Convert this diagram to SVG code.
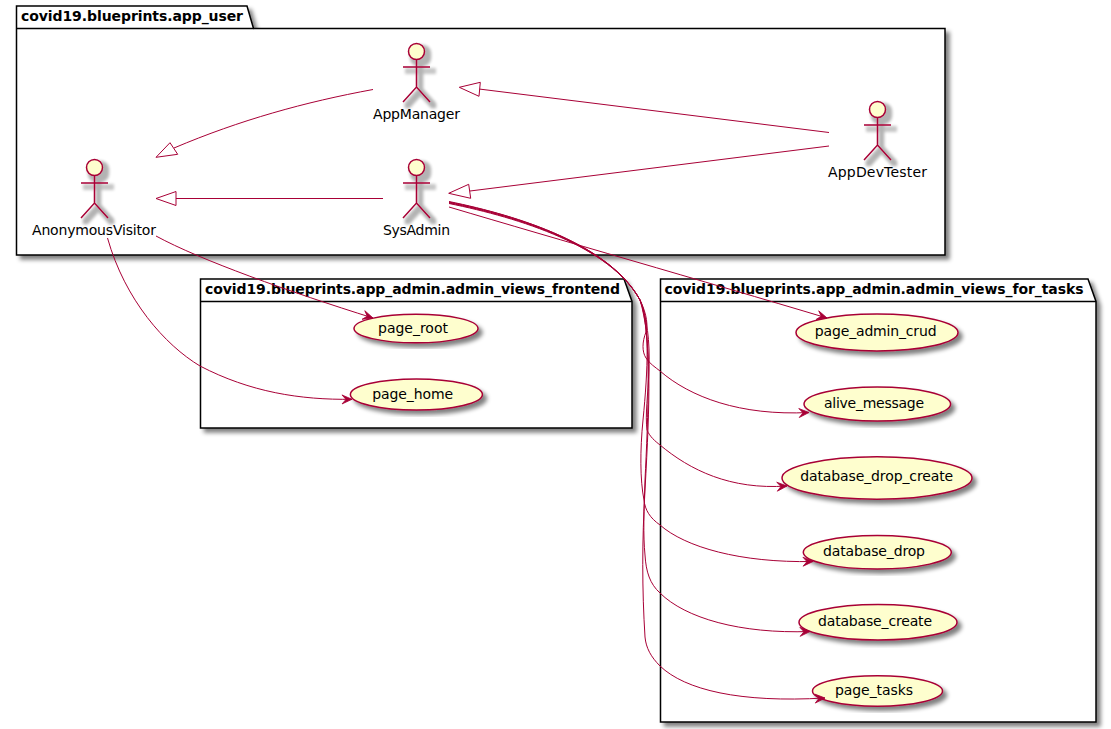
<svg xmlns="http://www.w3.org/2000/svg" width="1111" height="729" viewBox="0 0 1111 729">
<style>
text{font-family:"DejaVu Sans",sans-serif;font-size:14px;fill:#000}
.pkg path{fill:#fff;stroke:#000;stroke-width:1.5}
.pkg text{font-weight:bold}
.actor circle,.uc ellipse{fill:#FEFECE;stroke:#A80036;stroke-width:1.5}
.actor path{fill:none;stroke:#A80036;stroke-width:1.5}
.actor text,.uc text{text-anchor:middle}
.c{fill:none;stroke:#A80036;stroke-width:1}
.a{marker-end:url(#arrow)}
.t{fill:#fff;stroke:#A80036;stroke-width:1}
</style>
<defs>
<filter id="sh" x="-10%" y="-10%" width="125%" height="130%">
<feGaussianBlur in="SourceAlpha" stdDeviation="2.2" result="b"/>
<feOffset in="b" dx="4" dy="4" result="o"/>
<feComponentTransfer in="o" result="g"><feFuncA type="linear" slope="0.5"/></feComponentTransfer>
<feMerge><feMergeNode in="g"/><feMergeNode in="SourceGraphic"/></feMerge>
</filter>
<filter id="sa" x="-40%" y="-20%" width="200%" height="150%">
<feMorphology in="SourceAlpha" operator="dilate" radius="1.5" result="d"/>
<feGaussianBlur in="d" stdDeviation="1.6" result="b"/>
<feOffset in="b" dx="4" dy="4" result="o"/>
<feComponentTransfer in="o" result="g"><feFuncA type="linear" slope="0.3"/></feComponentTransfer>
<feMerge><feMergeNode in="g"/><feMergeNode in="SourceGraphic"/></feMerge>
</filter>
<marker id="arrow" markerUnits="userSpaceOnUse" markerWidth="14" markerHeight="12" viewBox="-12 -6 14 12" refX="0" refY="0" orient="auto" overflow="visible">
<path d="M0,0L-10,-4.5L-6,0L-10,4.5Z" fill="#A80036" stroke="#A80036" stroke-width="0.8"/>
</marker>
</defs>
<g id="pkg-app-user" class="pkg">
<path filter="url(#sh)" d="M16.5,28.5V6H247L253.5,28.5H945V255H16.5Z"/>
<path d="M16.5,28.5H253.5" fill="none"/>
<text x="21" y="20.5" textLength="222">covid19.blueprints.app_user</text>
</g>
<g id="pkg-frontend" class="pkg">
<path filter="url(#sh)" d="M200.5,301.5V279H624L632,301.5V428H200.5Z"/>
<path d="M200.5,301.5H632" fill="none"/>
<text x="205" y="294" textLength="415">covid19.blueprints.app_admin.admin_views_frontend</text>
</g>
<g id="pkg-tasks" class="pkg">
<path filter="url(#sh)" d="M660.5,301.5V279H1088L1096,301.5V722H660.5Z"/>
<path d="M660.5,301.5H1096" fill="none"/>
<text x="664.5" y="294" textLength="419">covid19.blueprints.app_admin.admin_views_for_tasks</text>
</g>
<g id="AppManager" class="actor">
<g filter="url(#sa)"><circle cx="416.5" cy="51.5" r="8"/><path d="M416.5,59.5V87M403,67H430M403,102L416.5,87L430,102"/></g>
<text x="416.5" y="119" textLength="87">AppManager</text>
</g>
<g id="SysAdmin" class="actor">
<g filter="url(#sa)"><circle cx="416.5" cy="167.5" r="8"/><path d="M416.5,175.5V203M403,183H430M403,218L416.5,203L430,218"/></g>
<text x="416.5" y="235" textLength="67">SysAdmin</text>
</g>
<g id="AnonymousVisitor" class="actor">
<g filter="url(#sa)"><circle cx="94.5" cy="167.5" r="8"/><path d="M94.5,175.5V203M81,183H108M81,218L94.5,203L108,218"/></g>
<text x="94" y="235" textLength="124">AnonymousVisitor</text>
</g>
<g id="AppDevTester" class="actor">
<g filter="url(#sa)"><circle cx="877.5" cy="109.5" r="8"/><path d="M877.5,117.5V145M864,125H891M864,160L877.5,145L891,160"/></g>
<text x="877.5" y="177" textLength="99">AppDevTester</text>
</g>
<g id="page_root" class="uc"><ellipse filter="url(#sh)" cx="416" cy="328.5" rx="62" ry="14.3"/><text x="413" y="333" textLength="70">page_root</text></g>
<g id="page_home" class="uc"><ellipse filter="url(#sh)" cx="416.4" cy="394.5" rx="66" ry="15.5"/><text x="412.7" y="399" textLength="81">page_home</text></g>
<g id="page_admin_crud" class="uc"><ellipse filter="url(#sh)" cx="877" cy="332.5" rx="81" ry="18.5"/><text x="875.7" y="336" textLength="121.7">page_admin_crud</text></g>
<g id="alive_message" class="uc"><ellipse filter="url(#sh)" cx="877.3" cy="404" rx="73.3" ry="17"/><text x="874" y="408" textLength="100">alive_message</text></g>
<g id="database_drop_create" class="uc"><ellipse filter="url(#sh)" cx="877" cy="478" rx="95" ry="21.3"/><text x="876.7" y="481" textLength="153">database_drop_create</text></g>
<g id="database_drop" class="uc"><ellipse filter="url(#sh)" cx="877.3" cy="552.3" rx="74" ry="16.7"/><text x="874" y="556" textLength="102">database_drop</text></g>
<g id="database_create" class="uc"><ellipse filter="url(#sh)" cx="878" cy="622.3" rx="79" ry="17.7"/><text x="875" y="626" textLength="114">database_create</text></g>
<g id="page_tasks" class="uc"><ellipse filter="url(#sh)" cx="877.5" cy="691" rx="65" ry="15.2"/><text x="874" y="695" textLength="78">page_tasks</text></g>
<g id="connectors">
<path class="c" d="M373,89.5C305,102 240,120 174,148"/>
<polygon class="t" points="156,157.3 170,142.7 177.7,154.3"/>
<path class="c" d="M383,198.5H176"/>
<polygon class="t" points="156,198.5 176,191.5 176,205.5"/>
<path class="c" d="M829,132.5L479,89"/>
<polygon class="t" points="459.3,87.3 480.3,82.3 479,96.3"/>
<path class="c" d="M829,146L470,191"/>
<polygon class="t" points="448.7,193.3 468.7,184.3 470.7,198.3"/>
<path class="c a" d="M156,236C200,260 290,292 373,318"/>
<path class="c a" d="M107.5,238C125,300 165,345 200,366C250,392 300,400 352,399.3"/>
<path class="c a" d="M449,207C560,240 700,280 827,318"/>
<path class="c a" d="M449,201.5C520,216 610,245 640,300C644,308 649,322 646,332C642,342 642,352 646,358C650,364 655,367 660,371C690,397 740,416 809,412.5"/>
<path class="c a" d="M449,202C520,216 610,245 640,300C647,318 650,340 649,370C648,395 645,415 647,430C650,437 655,441 660,445C690,470 730,490 787,486"/>
<path class="c a" d="M449,202.5C520,217 610,245 640,300C650,320 648,370 643,420C640,450 640,480 644,500C645,510 650,518 660,525C685,547 740,563 813,561.5"/>
<path class="c a" d="M449,203C520,217 610,246 640,300C652,330 648,420 645,480C644,510 643,535 645,555C646,572 650,584 660,593C685,618 740,634 810,631.5"/>
<path class="c a" d="M449,203.5C520,218 610,246 640,300C652,340 650,400 645,490C642,540 642,590 645,637C646,648 651,657 660,666C685,690 740,703 825,698"/>
</g>
</svg>
